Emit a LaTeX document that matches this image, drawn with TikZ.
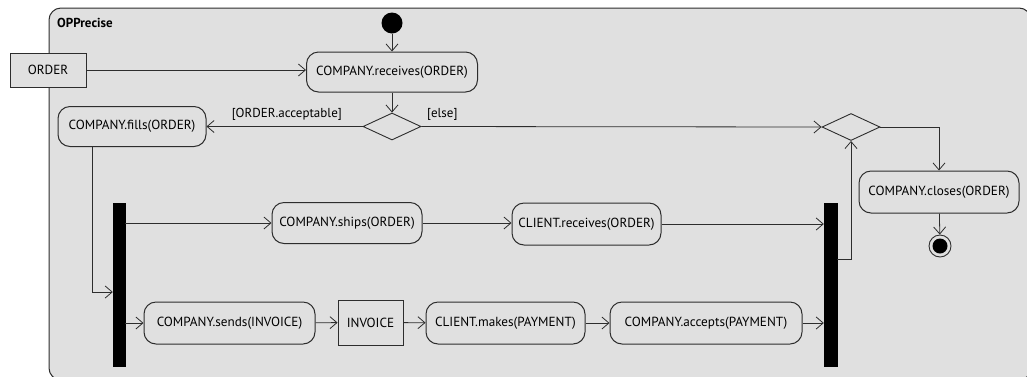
\documentclass[tikz,border=0pt]{standalone}
\usepackage{fontspec}
\setmainfont{PT Sans}
\usetikzlibrary{arrows.meta,shapes.geometric}
\definecolor{bggray}{RGB}{224,224,224}
\definecolor{linegray}{RGB}{45,45,45}
\begin{document}
\begin{tikzpicture}[x=1pt,y=-1pt,
  every node/.style={font=\fontsize{13.2}{15}\selectfont, text=black},
  action/.style={draw=linegray, line width=1pt, rounded corners=12pt, fill=bggray, inner sep=0pt},
  objbox/.style={draw=linegray, line width=0.9pt, fill=bggray, inner sep=0pt},
  decision/.style={draw=linegray, line width=0.9pt, diamond, aspect=2, fill=bggray, inner sep=0pt, minimum width=58pt, minimum height=27pt},
  bar/.style={fill=black, draw=black, inner sep=0pt, minimum width=12pt, minimum height=163pt},
  flow/.style={draw=linegray, line width=0.8pt, -{Straight Barb[length=7pt,width=12pt,line width=0.8pt]}},
  guard/.style={font=\fontsize{13}{15}\selectfont, inner sep=1pt}
]
\useasboundingbox (0,0) rectangle (1027,376);
\clip (0,0) rectangle (1027,376);
% frame
\draw[draw=linegray, line width=1pt, fill=bggray, rounded corners=12pt] (49,8) rectangle (1031,380);
\node[anchor=base west, font=\bfseries\fontsize{13}{15}\selectfont, inner sep=0pt] (title) at (57,27) {OPPrecise};

% nodes
\node[objbox, minimum width=76pt, minimum height=34pt] (order) at (48,70) {ORDER};
\node[fill=black, circle, inner sep=0pt, minimum size=21pt] (start) at (392,23) {};
\node[action, minimum width=171pt, minimum height=40pt] (receives) at (392,72) {COMPANY.receives(ORDER)};
\node[decision] (d1) at (392,126.5) {};
\node[action, minimum width=148pt, minimum height=40pt] (fills) at (132,126.5) {COMPANY.fills(ORDER)};
\node[decision] (d2) at (851,127) {};
\node[action, minimum width=160pt, minimum height=42pt] (closes) at (939,192) {COMPANY.closes(ORDER)};
\node[circle, draw=linegray, line width=0.9pt, fill=bggray, inner sep=0pt, minimum size=22pt] (final) at (940,246) {};
\fill[black] (final.center) circle (7.5pt);

\node[bar] (fork) at (119,284.5) {};
\node[bar, minimum width=13pt] (join) at (830.5,284.5) {};

\node[action, minimum width=150pt, minimum height=41pt] (ships) at (347,223) {COMPANY.ships(ORDER)};
\node[action, minimum width=149pt, minimum height=42pt] (crec) at (586.5,224) {CLIENT.receives(ORDER)};
\node[action, minimum width=171pt, minimum height=42pt] (sends) at (229.5,323) {COMPANY.sends(INVOICE)};
\node[objbox, minimum width=65pt, minimum height=45pt] (invoice) at (370.5,322.5) {INVOICE};
\node[action, minimum width=159pt, minimum height=42pt] (makes) at (505.5,323) {CLIENT.makes(PAYMENT)};
\node[action, minimum width=192pt, minimum height=42pt] (accepts) at (706,323) {COMPANY.accepts(PAYMENT)};

% edges
\draw[flow] (start) -- (receives);
\draw[flow] (order.east) -- (order.east -| receives.west);
\draw[flow] (receives) -- (d1);
\draw[flow] (d1.west) -- (d1.west -| fills.east);
\draw[flow] (d1.east) -- (d2.west);
\draw[flow] (d2.east) -| (closes.north);
\draw[flow] (closes) -- (final);
\draw[flow] ([xshift=35pt]fills.south west) |- ([yshift=-7.5pt]fork.west);
\draw[flow] (fork.east |- ships) -- (ships.west);
\draw[flow] (ships.east) -- (ships.east -| crec.west);
\draw[flow] (crec.east) -- (crec.east -| join.west);
\draw[flow] (fork.east |- sends) -- (sends.west);
\draw[flow] (sends) -- (invoice);
\draw[flow] (invoice) -- (makes);
\draw[flow] (makes) -- (accepts);
\draw[flow] (accepts.east) -- (accepts.east -| join.west);
\draw[flow] ([yshift=25.5pt]join.east) -| (d2.south);

% guards
\node[guard, anchor=base east] (g1) at (343,117) {[ORDER.acceptable]};
\node[guard, anchor=base west] (g2) at (426,117) {[else]};
\end{tikzpicture}
\end{document}
